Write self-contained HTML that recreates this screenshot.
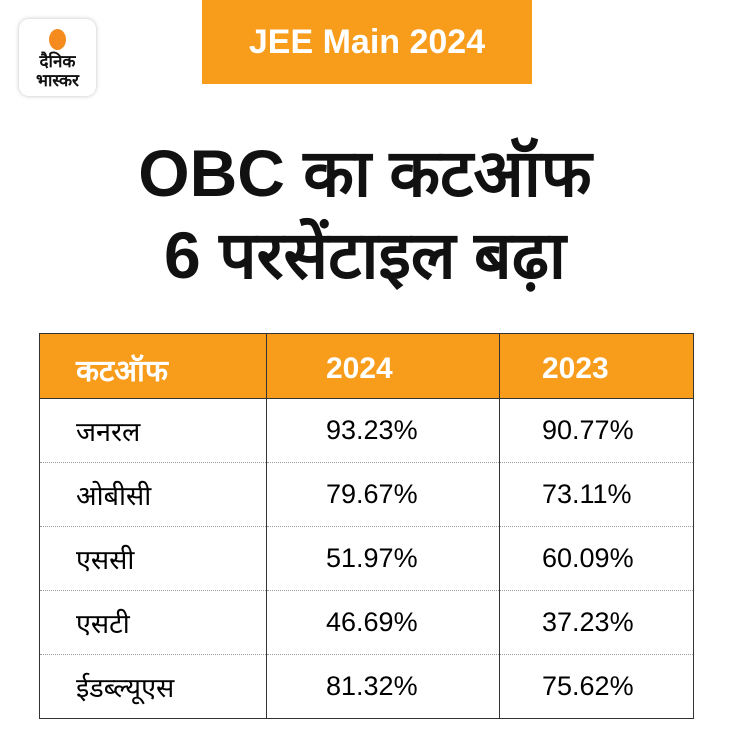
<!DOCTYPE html>
<html><head><meta charset="utf-8"><style>
body{margin:0;width:730px;height:750px;background:#fff;position:relative;overflow:hidden;font-family:"Liberation Sans","Noto Sans CJK SC",sans-serif}
.logo{position:absolute;left:19px;top:19px;width:77px;height:77px;border-radius:10px;background:#fff;box-shadow:0 0 4px rgba(0,0,0,.25);text-align:center}
.logo .dot{width:17px;height:21px;border-radius:50%;background:#f58a1f;margin:10px auto 2px}
.logo .t{font-weight:bold;font-size:17px;line-height:19px;color:#111}
.banner{position:absolute;left:202px;top:0;width:330px;height:84px;background:#f89c1c;color:#fff;font-weight:bold;font-size:34px;line-height:84px;text-align:center}
.title{position:absolute;left:0;width:730px;text-align:center;font-weight:bold;font-size:66px;color:#111}
table{position:absolute;left:39px;top:333px;border-collapse:collapse;width:654px;table-layout:fixed;border-bottom:1px solid #333}
td,th{border:1px solid #333;height:63px;font-size:27px;text-align:left;padding:0}
tr+tr td{border-top:1px dotted #999;border-bottom:1px dotted #999}
tr:last-child td{border-bottom:1px solid #333}
th{background:#f89c1c;color:#fff;font-weight:bold;height:58px;font-size:30px;padding-top:6px}
.c1{padding-left:36px}.c2{padding-left:59px}.c3{padding-left:42px}
</style></head><body>
<div class="logo"><div class="dot"></div><div class="t">दैनिक<br>भास्कर</div></div>
<div class="banner">JEE Main 2024</div>
<div class="title" style="top:126px">OBC का कटऑफ</div>
<div class="title" style="top:208px">6 परसेंटाइल बढ़ा</div>
<table>
<colgroup><col style="width:227px"><col style="width:233px"><col style="width:194px"></colgroup>
<tr><th class="c1">कटऑफ</th><th class="c2">2024</th><th class="c3">2023</th></tr>
<tr><td class="c1">जनरल</td><td class="c2">93.23%</td><td class="c3">90.77%</td></tr>
<tr><td class="c1">ओबीसी</td><td class="c2">79.67%</td><td class="c3">73.11%</td></tr>
<tr><td class="c1">एससी</td><td class="c2">51.97%</td><td class="c3">60.09%</td></tr>
<tr><td class="c1">एसटी</td><td class="c2">46.69%</td><td class="c3">37.23%</td></tr>
<tr><td class="c1">ईडब्ल्यूएस</td><td class="c2">81.32%</td><td class="c3">75.62%</td></tr>
</table>
</body></html>
